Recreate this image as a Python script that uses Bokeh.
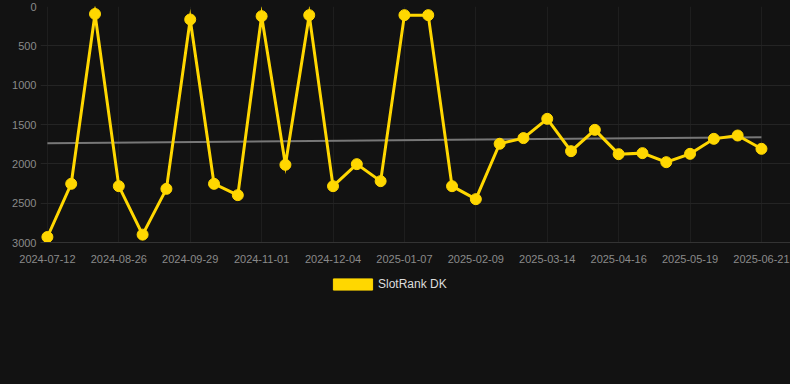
import re
from bokeh.plotting import figure
from bokeh.layouts import column
from bokeh.models import Range1d, FixedTicker, Legend, LegendItem, ColumnDataSource
from bokeh.embed import file_html
from bokeh.resources import INLINE

dates = ["2024-07-12", "2024-07-27", "2024-08-11", "2024-08-26", "2024-09-06", "2024-09-17",
         "2024-09-29", "2024-10-10", "2024-10-21", "2024-11-01", "2024-11-12", "2024-11-23",
         "2024-12-04", "2024-12-15", "2024-12-26", "2025-01-07", "2025-01-18", "2025-01-29",
         "2025-02-09", "2025-02-20", "2025-03-03", "2025-03-14", "2025-03-25", "2025-04-05",
         "2025-04-16", "2025-04-27", "2025-05-08", "2025-05-19", "2025-05-30", "2025-06-10",
         "2025-06-21"]
ranks = [2930, 2254, 95, 2284, 2900, 2318, 165, 2254, 2398, 123, 2012, 110, 2284, 2004, 2220,
         110, 110, 2284, 2449, 1745, 1673, 1428, 1839, 1568, 1877, 1864, 1979, 1873, 1682,
         1640, 1809]
trend = [1737, 1661]
y_ticks = [0, 500, 1000, 1500, 2000, 2500, 3000]
series_name = "SlotRank DK"

YELLOW = "#FFD700"
BG = "#121212"
FONT = "Liberation Sans"

idx = list(range(len(dates)))
src = ColumnDataSource(dict(x=idx, y=ranks, d=dates))

p = figure(width=790, height=270, output_backend="svg", toolbar_location=None,
           x_range=Range1d(-0.29, 31.22), y_range=Range1d(3000, 0),
           min_border_left=40, min_border_right=0, min_border_top=6, min_border_bottom=28,
           background_fill_color=None, border_fill_color=None, outline_line_color=None)

p.line([idx[0], idx[-1]], trend, line_color="#777777", line_width=2)
p.line("x", "y", source=src, line_color=YELLOW, line_width=3, line_join="miter")
p.scatter("x", "y", source=src, size=11, fill_color=YELLOW, line_color=YELLOW)

p.xaxis.ticker = FixedTicker(ticks=idx[::3])
p.xaxis.major_label_overrides = {i: dates[i] for i in idx[::3]}
p.yaxis.ticker = FixedTicker(ticks=y_ticks)

for ax in (p.xaxis[0], p.yaxis[0]):
    ax.major_tick_line_color = None
    ax.minor_tick_line_color = None
    ax.major_tick_out = 0
    ax.major_tick_in = 0
    ax.minor_tick_out = 0
    ax.minor_tick_in = 0
    ax.major_label_text_color = "#8a8a8a"
    ax.major_label_text_font = FONT
    ax.major_label_text_font_size = "11px"
p.xaxis.axis_line_color = "#333333"
p.yaxis.axis_line_color = None
p.xaxis.major_label_standoff = 12
p.yaxis.major_label_standoff = 4

p.xgrid.ticker = FixedTicker(ticks=idx[::3])
p.xgrid.grid_line_color = "#1e1e1e"
p.ygrid.grid_line_color = "#242424"

# legend strip below the chart
p2 = figure(width=790, height=114, output_backend="svg", toolbar_location=None,
            x_axis_type=None, y_axis_type=None, x_range=Range1d(0, 1), y_range=Range1d(0, 1),
            min_border=0, background_fill_color=None, border_fill_color=None,
            outline_line_color=None)
p2.grid.visible = False
leg_r = p2.vbar(x=idx, top=ranks, width=0.5, fill_color=YELLOW, line_color=YELLOW)
leg_r.visible = False
legend = Legend(items=[LegendItem(label=series_name, renderers=[leg_r])],
                location=(288, 93), orientation="horizontal",
                glyph_width=49, glyph_height=14, label_standoff=1,
                label_text_color="#dddddd", label_text_font=FONT, label_text_font_size="12px",
                inactive_fill_alpha=0,
                background_fill_alpha=0, border_line_color=None, padding=4, margin=0)
p2.add_layout(legend, "center")

layout = column(p, p2, spacing=0)
html = file_html(layout, INLINE)
style = "<style>html, body { margin: 0; padding: 0; background-color: %s; }</style>" % BG
html = re.sub(r"</head>", style + "</head>", html, count=1, flags=re.I)
html = re.sub(r"<body([^>]*)>", r'<body\1 style="margin:0;background-color:%s;">' % BG,
              html, count=1, flags=re.I)
open("out.html", "w").write(html)
